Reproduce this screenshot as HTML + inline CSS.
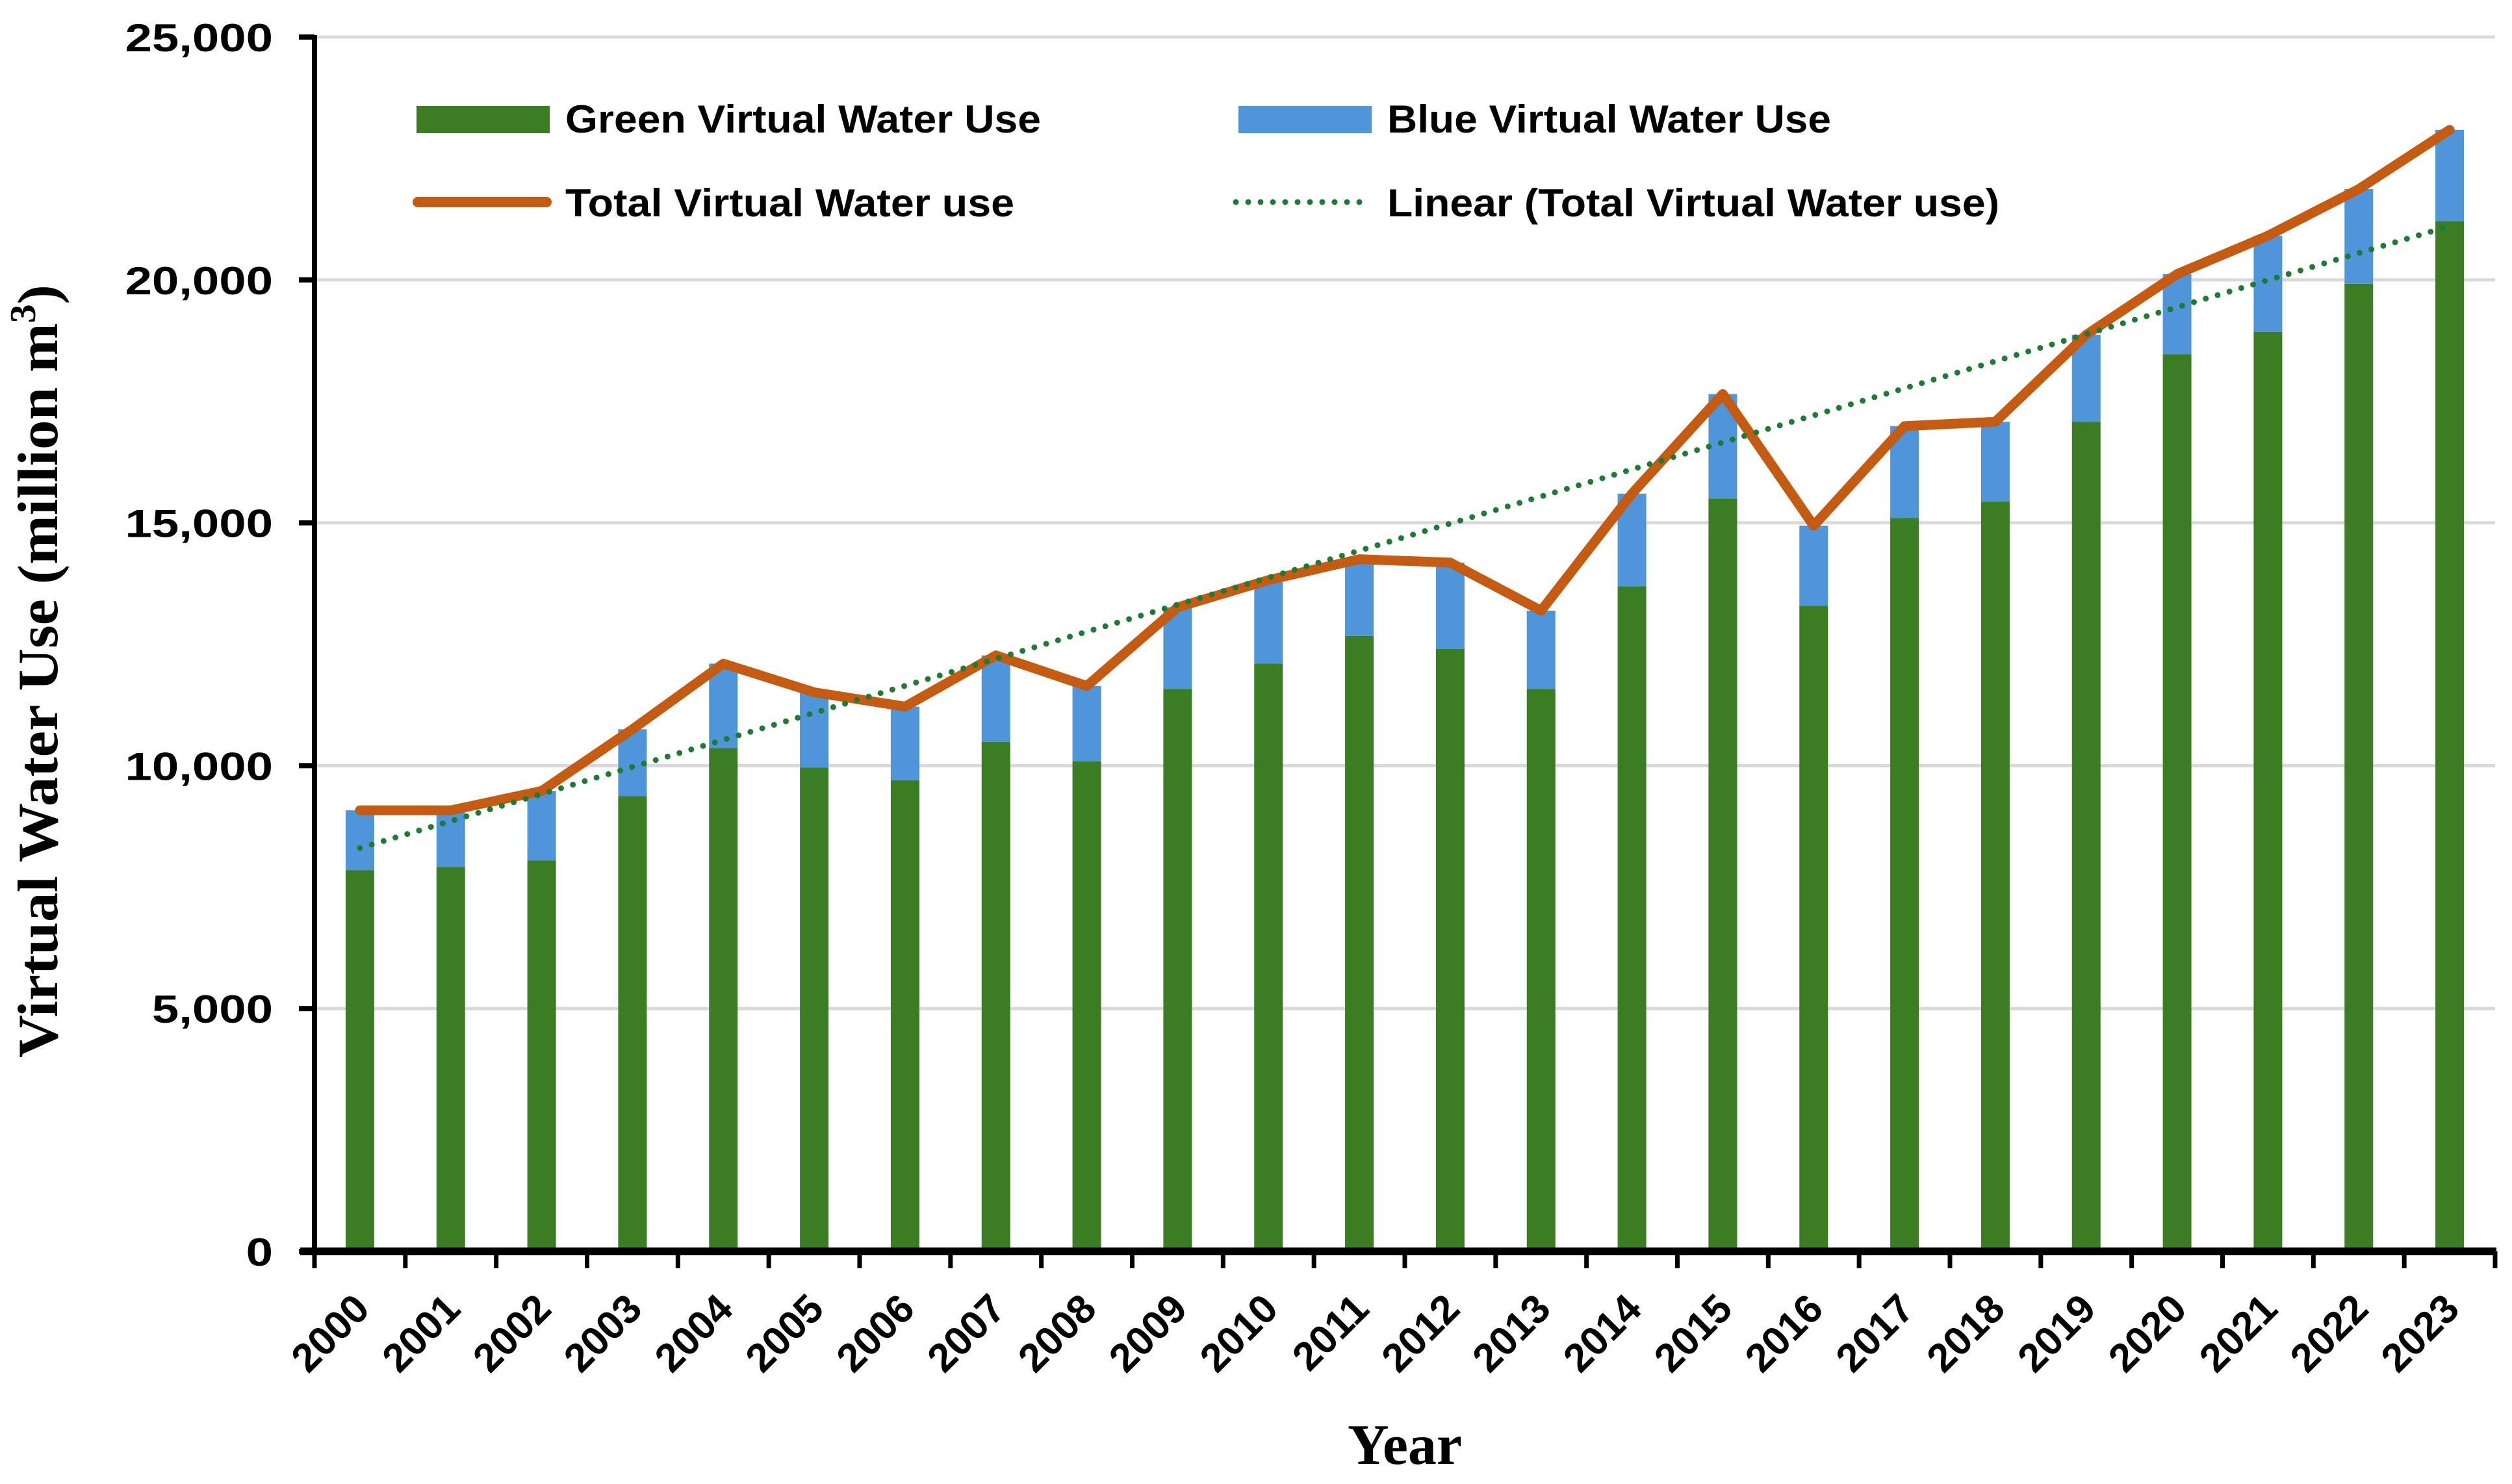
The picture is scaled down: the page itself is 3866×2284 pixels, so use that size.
<!DOCTYPE html>
<html><head><meta charset="utf-8"><style>html,body{margin:0;padding:0;background:#fff}svg{display:block}</style></head>
<body>
<svg id="chart" xmlns="http://www.w3.org/2000/svg" width="3866" height="2284" viewBox="0 0 3866 2284">
<rect width="3866" height="2284" fill="#fff"/>
<g id="grid"></g>
<g id="bars"></g>
<g id="lines"></g>
<g id="axes"></g>
<g id="legend" font-family="'Liberation Sans Narrow','Liberation Sans',sans-serif" font-weight="bold" font-size="60" fill="#000">
  <rect x="641" y="163" width="205" height="42" fill="#3B7D23"/>
  <text x="870" y="204" textLength="732" lengthAdjust="spacingAndGlyphs">Green Virtual Water Use</text>
  <rect x="1906" y="163" width="205" height="42" fill="#4E95D9"/>
  <text x="2135" y="204" textLength="683" lengthAdjust="spacingAndGlyphs">Blue Virtual Water Use</text>
  <line x1="643" y1="311" x2="841" y2="311" stroke="#C55A11" stroke-width="16" stroke-linecap="round"/>
  <text x="870" y="333" textLength="691" lengthAdjust="spacingAndGlyphs">Total Virtual Water use</text>
  <line x1="1902" y1="311" x2="2111" y2="311" stroke="#1E7B34" stroke-width="9" stroke-dasharray="0 19" stroke-linecap="round"/>
  <text x="2135" y="333" textLength="942" lengthAdjust="spacingAndGlyphs">Linear (Total Virtual Water use)</text>
</g>
<text transform="translate(88,1033) rotate(-90)" text-anchor="middle" font-family="'Liberation Serif',serif" font-weight="bold" font-size="88" textLength="1190" lengthAdjust="spacingAndGlyphs">Virtual Water Use (million m<tspan font-size="56" dy="-34">3</tspan><tspan dy="34">)</tspan></text>
<text x="2162" y="2253" text-anchor="middle" font-family="'Liberation Serif',serif" font-weight="bold" font-size="88">Year</text>
</svg>
<script>
const years = ["2000","2001","2002","2003","2004","2005","2006","2007","2008","2009","2010","2011","2012","2013","2014","2015","2016","2017","2018","2019","2020","2021","2022","2023"];
const greenUse = [7850,7915,8050,9370,10360,9960,9700,10490,10090,11580,12100,12670,12400,11580,13690,15500,13290,15100,15440,17080,18470,18930,19920,21210];
const totalUse = [9080,9080,9480,10750,12100,11510,11215,12270,11640,13260,13820,14250,14180,13190,15600,17650,14940,16990,17080,18870,20120,20910,21870,23090];
const yTicks = [0,5000,10000,15000,20000,25000];
const yTickLabels = ["0","5,000","10,000","15,000","20,000","25,000"];

const NS="http://www.w3.org/2000/svg";
const X0=484, X1=3840, Y0=1926, Y1=57, YMAX=25000;
const band=(X1-X0)/years.length;
const xc=i=>X0+band*(i+0.5);
const yv=v=>Y0-(v/YMAX)*(Y0-Y1);
function mk(tag,attrs,parent){const e=document.createElementNS(NS,tag);for(const k in attrs)e.setAttribute(k,attrs[k]);parent.appendChild(e);return e;}
const grid=document.getElementById('grid'),bars=document.getElementById('bars'),lines=document.getElementById('lines'),axes=document.getElementById('axes');

yTicks.forEach((t,i)=>{
  if(t>0){const g=mk('line',{x1:X0,x2:X1,y1:yv(t),y2:yv(t),stroke:'#d9d9d9','stroke-width':5},grid);
  
  }
  const tk=mk('line',{x1:X0-24,x2:X0,y1:yv(t),y2:yv(t),stroke:'#000','stroke-width':8},axes);
  
  
  const lb=mk('text',{x:0,y:0,'text-anchor':'end','font-family':"'Liberation Sans',sans-serif",'font-weight':'bold','font-size':60,transform:`translate(420 ${yv(t)+22}) scale(1.24 1)`},axes);
  
  
  lb.textContent=yTickLabels[i];
});

const bw=44;
years.forEach((yr,i)=>{
  const g=mk('rect',{x:xc(i)-bw/2,y:yv(greenUse[i]),width:bw,height:Y0-yv(greenUse[i]),fill:'#3B7D23'},bars);
  
  
  const blue=totalUse[i]-greenUse[i];
  const b=mk('rect',{x:xc(i)-bw/2,y:yv(totalUse[i]),width:bw,height:yv(greenUse[i])-yv(totalUse[i]),fill:'#4E95D9'},bars);
  
  
  b.setAttribute('data-value',blue);
});

const pts=totalUse.map((v,i)=>xc(i)+','+yv(v)).join(' ');
const pl=mk('polyline',{points:pts,fill:'none',stroke:'#C55A11','stroke-width':15,'stroke-linejoin':'round','stroke-linecap':'round'},lines);



const n=totalUse.length;let sx=0,sy=0,sxy=0,sxx=0;
totalUse.forEach((v,i)=>{sx+=i;sy+=v;sxy+=i*v;sxx+=i*i;});
const m=(n*sxy-sx*sy)/(n*sxx-sx*sx),c=(sy-m*sx)/n;
const tl=mk('line',{x1:xc(0),y1:yv(c),x2:xc(n-1),y2:yv(c+m*(n-1)),stroke:'#1E7B34','stroke-width':9,'stroke-dasharray':'0 19','stroke-linecap':'round'},lines);



const ya=mk('line',{x1:X0,x2:X0,y1:Y1-3,y2:Y0+4,stroke:'#000','stroke-width':8},axes);


const xa=mk('line',{x1:X0-22,x2:X1+2,y1:Y0,y2:Y0,stroke:'#000','stroke-width':12},axes);


for(let i=0;i<=years.length;i++){
  const x=X0+band*i;
  const t=mk('line',{x1:x,x2:x,y1:Y0,y2:Y0+26,stroke:'#000','stroke-width':7},axes);
  
  
}
years.forEach((yr,i)=>{
  const x=xc(i)+18,y=Y0+92;
  const lb=mk('text',{x:x,y:y,'text-anchor':'end','font-family':"'Liberation Sans',sans-serif",'font-weight':'bold','font-size':62,transform:`rotate(-45 ${x} ${y})`},axes);
  
  
  lb.textContent=yr;
});
</script>
</body></html>
